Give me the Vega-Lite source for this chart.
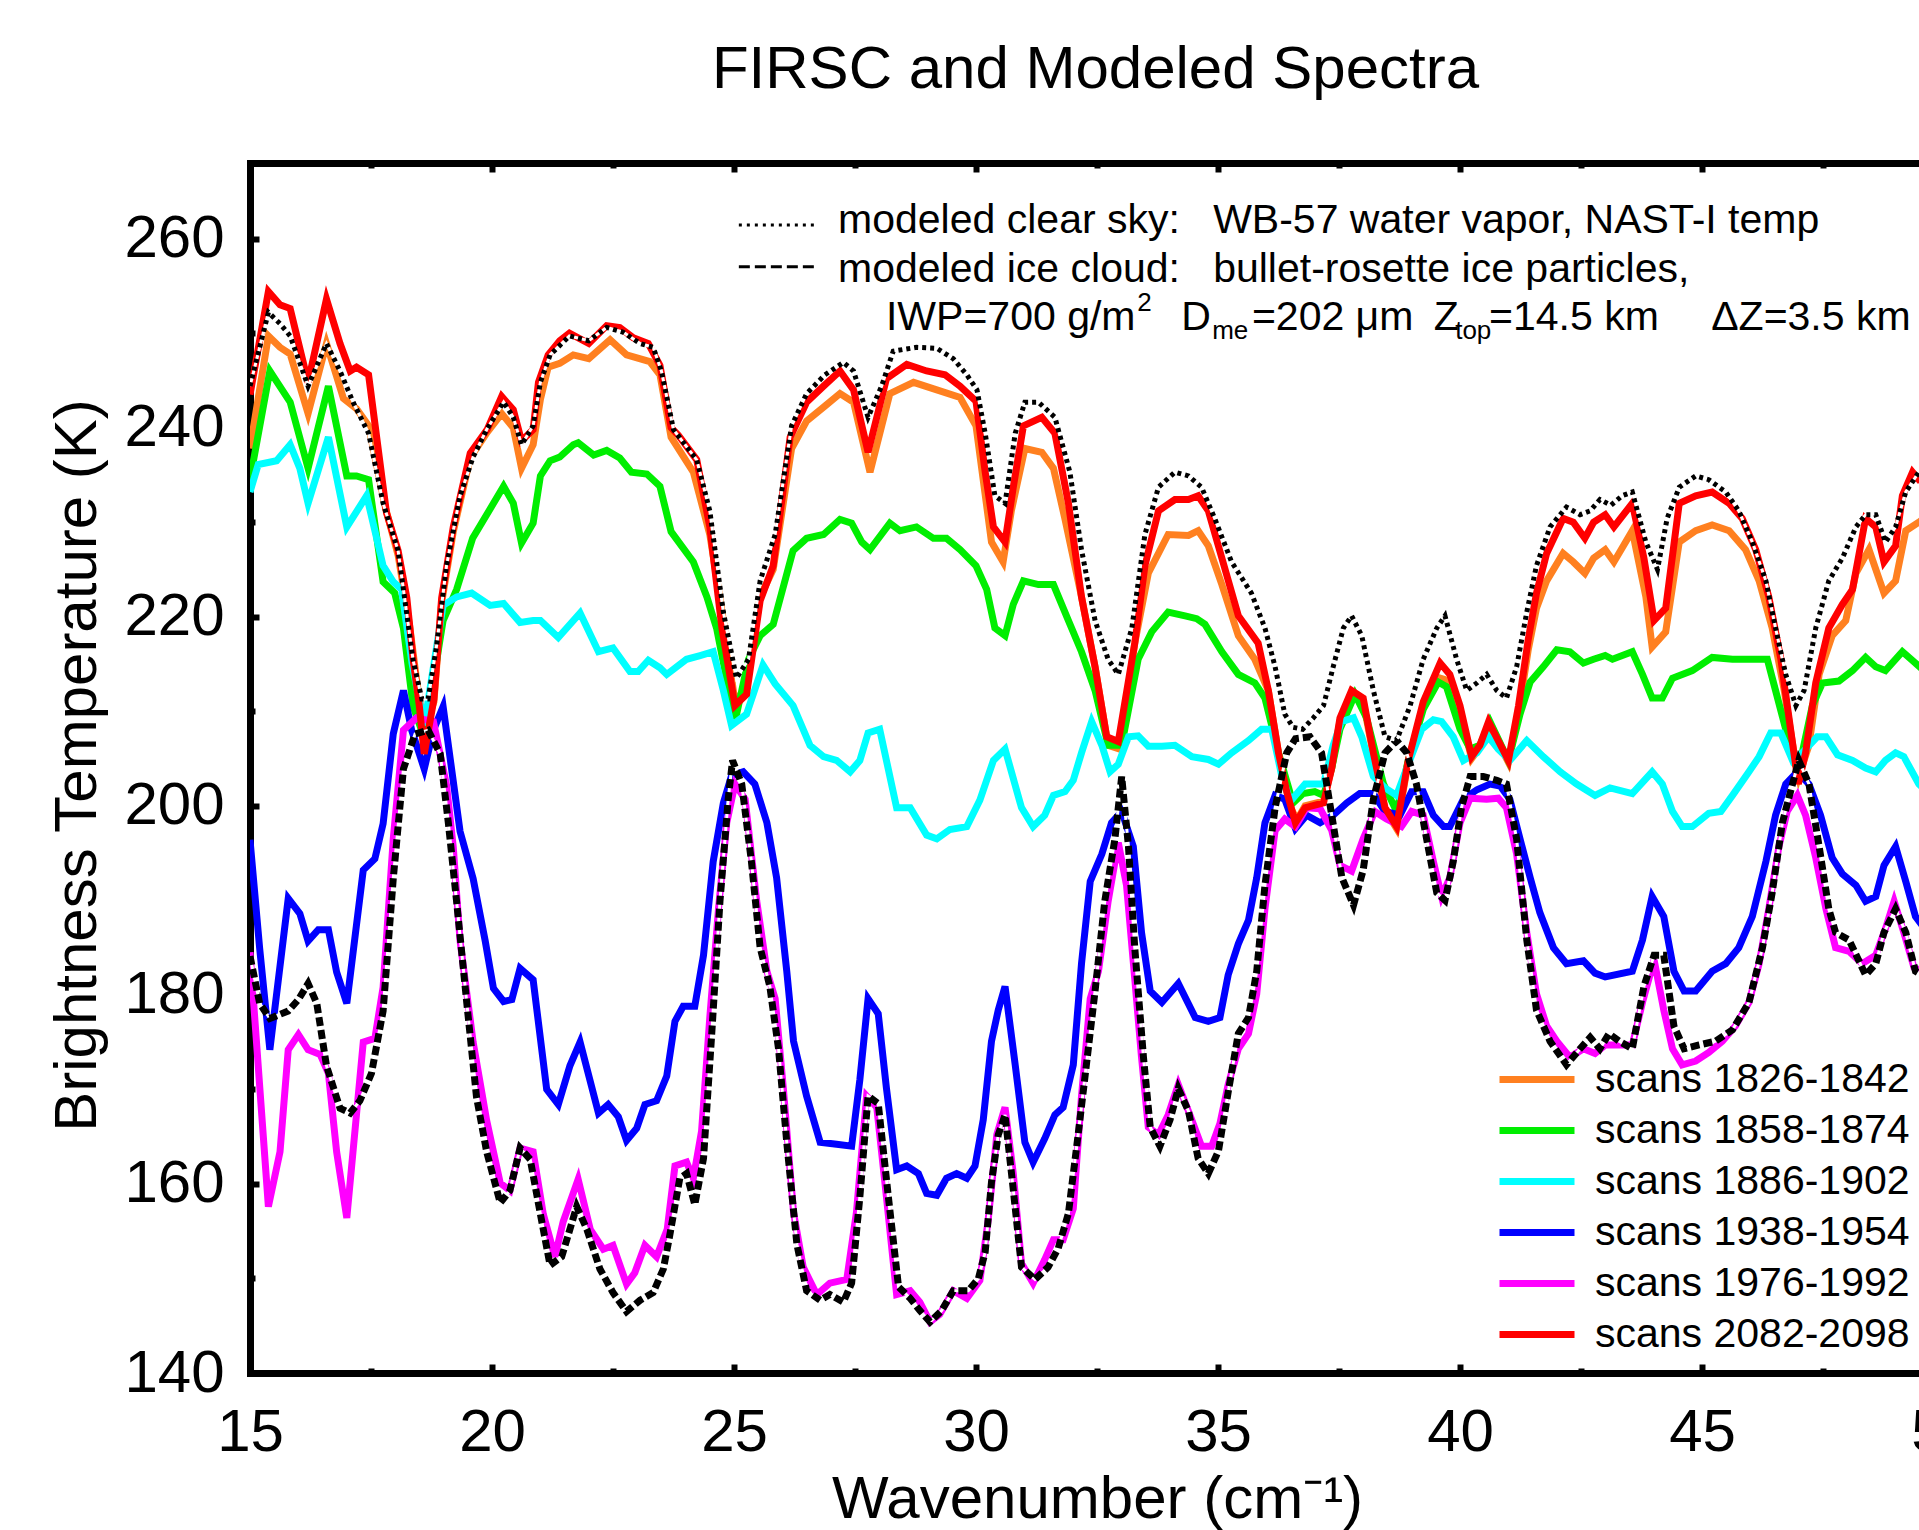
{
"$schema": "https://vega.github.io/schema/vega-lite/v6.json",
"autosize": {"type": "none"},
"padding": {"left": 250, "top": 163, "right": 0, "bottom": 157},
"width": 1669,
"height": 1210,
"background": "white",
"title": {"text": "FIRSC and Modeled Spectra", "font": "Liberation Sans", "fontSize": 60, "fontWeight": "normal", "color": "black", "anchor": "middle", "frame": "group", "baseline": "alphabetic", "dx": 11, "offset": 12},
"config": {
"view": {"stroke": null},
"font": "Liberation Sans",
"axis": {"grid": false, "domainColor": "black", "tickColor": "black", "labelColor": "black", "titleColor": "black", "labelFont": "Liberation Sans", "titleFont": "Liberation Sans", "titleFontWeight": "normal", "labelFontSize": 60, "titleFontSize": 60, "tickWidth": 6, "domainWidth": 7, "domainCap": "square", "labelFlush": false, "labelOverlap": false},
"legend": {"orient": "none", "legendX": 1246, "legendY": 896, "symbolType": "stroke", "symbolSize": 5625, "symbolStrokeWidth": 7, "labelFont": "Liberation Sans", "labelFontSize": 41, "labelColor": "black", "labelOffset": 17, "clipHeight": 41, "rowPadding": 9, "padding": 0, "labelLimit": 0}
},
"resolve": {"axis": {"x": "independent", "y": "independent"}},
"datasets": {
"s1826": [{"wn":15,"T":237.8},{"wn":15.38,"T":249.7},{"wn":15.62,"T":248.5},{"wn":15.83,"T":247.8},{"wn":16.2,"T":241.5},{"wn":16.58,"T":248.9},{"wn":16.93,"T":243.1},{"wn":17.2,"T":242},{"wn":17.45,"T":240.2},{"wn":17.8,"T":231.5},{"wn":18.06,"T":226.5},{"wn":18.3,"T":219},{"wn":18.45,"T":213},{"wn":18.6,"T":208},{"wn":18.8,"T":211},{"wn":18.96,"T":221.5},{"wn":19.2,"T":229},{"wn":19.55,"T":236.8},{"wn":19.9,"T":239.5},{"wn":20.2,"T":241.5},{"wn":20.44,"T":240},{"wn":20.61,"T":235.7},{"wn":20.85,"T":238.2},{"wn":21,"T":243},{"wn":21.16,"T":246.4},{"wn":21.4,"T":246.8},{"wn":21.68,"T":247.7},{"wn":22,"T":247.3},{"wn":22.44,"T":249.3},{"wn":22.78,"T":247.7},{"wn":23.26,"T":247},{"wn":23.47,"T":245.6},{"wn":23.7,"T":239},{"wn":24.16,"T":235.3},{"wn":24.5,"T":228.7},{"wn":24.78,"T":219.6},{"wn":25.02,"T":211},{"wn":25.26,"T":212.6},{"wn":25.54,"T":222.1},{"wn":25.81,"T":225},{"wn":26.19,"T":237.8},{"wn":26.5,"T":240.7},{"wn":26.88,"T":242.3},{"wn":27.19,"T":243.6},{"wn":27.47,"T":242.7},{"wn":27.81,"T":235.3},{"wn":28.22,"T":243.6},{"wn":28.71,"T":244.8},{"wn":29.19,"T":244},{"wn":29.67,"T":243.2},{"wn":30,"T":240.2},{"wn":30.32,"T":227.9},{"wn":30.56,"T":225.8},{"wn":30.73,"T":231.2},{"wn":31.01,"T":237.8},{"wn":31.36,"T":237.4},{"wn":31.6,"T":235.7},{"wn":31.84,"T":230.3},{"wn":32.18,"T":222.1},{"wn":32.46,"T":214.7},{"wn":32.73,"T":206.4},{"wn":32.97,"T":206},{"wn":33.28,"T":217.2},{"wn":33.56,"T":224.6},{"wn":33.97,"T":228.7},{"wn":34.39,"T":228.6},{"wn":34.59,"T":229.1},{"wn":34.8,"T":227.5},{"wn":35.08,"T":223.4},{"wn":35.42,"T":218},{"wn":35.76,"T":215.5},{"wn":36.04,"T":212.2},{"wn":36.25,"T":205.6},{"wn":36.5,"T":199.8},{"wn":36.63,"T":198.5},{"wn":36.8,"T":200},{"wn":37.18,"T":200.5},{"wn":37.35,"T":204},{"wn":37.52,"T":209},{"wn":37.76,"T":212},{"wn":38,"T":211},{"wn":38.21,"T":205.4},{"wn":38.45,"T":199.6},{"wn":38.69,"T":197.6},{"wn":38.93,"T":204.6},{"wn":39.24,"T":210.6},{"wn":39.59,"T":213.5},{"wn":39.79,"T":213.2},{"wn":40,"T":210},{"wn":40.24,"T":205},{"wn":40.41,"T":206.2},{"wn":40.59,"T":208.6},{"wn":40.79,"T":206.7},{"wn":41,"T":204.6},{"wn":41.21,"T":209.8},{"wn":41.41,"T":216.5},{"wn":41.58,"T":220.9},{"wn":41.79,"T":223.8},{"wn":42.13,"T":226.7},{"wn":42.34,"T":225.8},{"wn":42.58,"T":224.6},{"wn":42.76,"T":226.2},{"wn":43,"T":227.1},{"wn":43.18,"T":225.8},{"wn":43.56,"T":229.1},{"wn":43.84,"T":222.1},{"wn":43.97,"T":216.8},{"wn":44.25,"T":218.4},{"wn":44.53,"T":227.9},{"wn":44.87,"T":229.1},{"wn":45.21,"T":229.7},{"wn":45.56,"T":229.1},{"wn":45.9,"T":227.1},{"wn":46.18,"T":223.8},{"wn":46.45,"T":218.8},{"wn":46.7,"T":212.2},{"wn":46.9,"T":205.6},{"wn":47,"T":203.1},{"wn":47.21,"T":206.4},{"wn":47.42,"T":213.9},{"wn":47.69,"T":218},{"wn":47.97,"T":219.6},{"wn":48.18,"T":224.6},{"wn":48.45,"T":227.1},{"wn":48.76,"T":222.5},{"wn":49,"T":223.8},{"wn":49.21,"T":229.1},{"wn":49.48,"T":230},{"wn":49.75,"T":231}],
"s1858": [{"wn":15,"T":234.5},{"wn":15.41,"T":246},{"wn":15.83,"T":242.7},{"wn":16.2,"T":235.7},{"wn":16.62,"T":244.4},{"wn":17,"T":234.9},{"wn":17.2,"T":234.9},{"wn":17.45,"T":234.5},{"wn":17.75,"T":223.7},{"wn":17.99,"T":222.5},{"wn":18.17,"T":218.8},{"wn":18.37,"T":210.5},{"wn":18.6,"T":207.2},{"wn":18.99,"T":219.6},{"wn":19.27,"T":222.9},{"wn":19.6,"T":228.3},{"wn":20.24,"T":233.8},{"wn":20.44,"T":232},{"wn":20.61,"T":227.8},{"wn":20.85,"T":229.9},{"wn":21,"T":234.9},{"wn":21.2,"T":236.5},{"wn":21.4,"T":236.9},{"wn":21.68,"T":238.2},{"wn":21.78,"T":238.4},{"wn":22.1,"T":237.1},{"wn":22.37,"T":237.6},{"wn":22.64,"T":236.8},{"wn":22.88,"T":235.3},{"wn":23.2,"T":235.1},{"wn":23.47,"T":233.8},{"wn":23.7,"T":229},{"wn":24.16,"T":225.8},{"wn":24.44,"T":222.1},{"wn":24.64,"T":218.8},{"wn":25.02,"T":208.9},{"wn":25.3,"T":215.5},{"wn":25.54,"T":218},{"wn":25.81,"T":219.2},{"wn":26.22,"T":227},{"wn":26.5,"T":228.3},{"wn":26.85,"T":228.7},{"wn":27.19,"T":230.3},{"wn":27.43,"T":229.9},{"wn":27.64,"T":227.9},{"wn":27.81,"T":227.1},{"wn":28.22,"T":229.9},{"wn":28.43,"T":229.1},{"wn":28.77,"T":229.5},{"wn":29.12,"T":228.3},{"wn":29.39,"T":228.3},{"wn":29.67,"T":227.1},{"wn":30,"T":225.4},{"wn":30.22,"T":222.9},{"wn":30.39,"T":218.8},{"wn":30.6,"T":218},{"wn":30.77,"T":221.3},{"wn":30.98,"T":223.8},{"wn":31.29,"T":223.4},{"wn":31.6,"T":223.4},{"wn":31.91,"T":219.6},{"wn":32.18,"T":216.3},{"wn":32.46,"T":212.2},{"wn":32.73,"T":206.4},{"wn":33.01,"T":206.4},{"wn":33.35,"T":215.5},{"wn":33.63,"T":218.4},{"wn":33.97,"T":220.5},{"wn":34.32,"T":220.1},{"wn":34.56,"T":219.8},{"wn":34.73,"T":219.2},{"wn":35.08,"T":216.3},{"wn":35.42,"T":213.9},{"wn":35.76,"T":213},{"wn":35.97,"T":211.4},{"wn":36.25,"T":205.6},{"wn":36.55,"T":200.3},{"wn":36.76,"T":201.3},{"wn":37,"T":201.5},{"wn":37.18,"T":201.1},{"wn":37.35,"T":204},{"wn":37.52,"T":208.1},{"wn":37.83,"T":211.8},{"wn":38.07,"T":209.3},{"wn":38.42,"T":202.3},{"wn":38.69,"T":199.4},{"wn":38.93,"T":204.8},{"wn":39.24,"T":210.2},{"wn":39.55,"T":213.1},{"wn":39.72,"T":212.6},{"wn":40,"T":208.1},{"wn":40.21,"T":206},{"wn":40.41,"T":206.4},{"wn":40.62,"T":208.9},{"wn":41,"T":204.8},{"wn":41.24,"T":209.7},{"wn":41.45,"T":213.1},{"wn":41.72,"T":214.7},{"wn":42,"T":216.5},{"wn":42.27,"T":216.3},{"wn":42.55,"T":215.1},{"wn":42.76,"T":215.5},{"wn":43,"T":215.9},{"wn":43.15,"T":215.5},{"wn":43.56,"T":216.3},{"wn":43.77,"T":213.9},{"wn":43.97,"T":211.4},{"wn":44.18,"T":211.4},{"wn":44.39,"T":213.5},{"wn":44.8,"T":214.3},{"wn":45.21,"T":215.7},{"wn":45.63,"T":215.5},{"wn":46.04,"T":215.5},{"wn":46.35,"T":215.5},{"wn":46.52,"T":212.2},{"wn":46.73,"T":208.1},{"wn":46.9,"T":204.8},{"wn":47.07,"T":205.6},{"wn":47.28,"T":210.6},{"wn":47.49,"T":213},{"wn":47.83,"T":213.2},{"wn":48.11,"T":214.3},{"wn":48.38,"T":215.7},{"wn":48.59,"T":214.7},{"wn":48.79,"T":214.3},{"wn":49.14,"T":216.3},{"wn":49.41,"T":215.1},{"wn":49.75,"T":213.5}],
"s1886": [{"wn":15,"T":233.2},{"wn":15.17,"T":236.1},{"wn":15.55,"T":236.5},{"wn":15.83,"T":238.2},{"wn":16.03,"T":235.7},{"wn":16.2,"T":232},{"wn":16.62,"T":239},{"wn":17,"T":229.5},{"wn":17.41,"T":232.8},{"wn":17.75,"T":225.4},{"wn":17.96,"T":223.7},{"wn":18.13,"T":222.9},{"wn":18.35,"T":215},{"wn":18.6,"T":208.5},{"wn":18.99,"T":221.2},{"wn":19.27,"T":222.1},{"wn":19.58,"T":222.5},{"wn":19.96,"T":221.2},{"wn":20.24,"T":221.4},{"wn":20.58,"T":219.4},{"wn":20.85,"T":219.6},{"wn":21,"T":219.6},{"wn":21.37,"T":217.8},{"wn":21.82,"T":220.4},{"wn":22.2,"T":216.3},{"wn":22.5,"T":216.7},{"wn":22.85,"T":214.2},{"wn":23.02,"T":214.2},{"wn":23.23,"T":215.4},{"wn":23.47,"T":214.6},{"wn":23.61,"T":213.9},{"wn":24.02,"T":215.5},{"wn":24.3,"T":215.9},{"wn":24.57,"T":216.3},{"wn":24.78,"T":212.2},{"wn":24.95,"T":208.5},{"wn":25.26,"T":209.7},{"wn":25.6,"T":214.9},{"wn":25.85,"T":212.9},{"wn":26.22,"T":210.6},{"wn":26.57,"T":206.4},{"wn":26.85,"T":205.2},{"wn":27.12,"T":204.8},{"wn":27.4,"T":203.6},{"wn":27.6,"T":204.8},{"wn":27.77,"T":207.7},{"wn":28.01,"T":208.1},{"wn":28.36,"T":199.8},{"wn":28.64,"T":199.8},{"wn":28.98,"T":196.9},{"wn":29.19,"T":196.5},{"wn":29.46,"T":197.5},{"wn":29.81,"T":197.8},{"wn":30.08,"T":200.6},{"wn":30.36,"T":204.8},{"wn":30.6,"T":206},{"wn":30.94,"T":199.8},{"wn":31.18,"T":197.8},{"wn":31.42,"T":199},{"wn":31.6,"T":201.1},{"wn":31.84,"T":201.5},{"wn":32.01,"T":202.7},{"wn":32.18,"T":205.6},{"wn":32.39,"T":208.9},{"wn":32.6,"T":206.4},{"wn":32.77,"T":203.6},{"wn":32.94,"T":204.4},{"wn":33.15,"T":207.3},{"wn":33.35,"T":207.4},{"wn":33.56,"T":206.3},{"wn":33.84,"T":206.3},{"wn":34.11,"T":206.4},{"wn":34.46,"T":205.2},{"wn":34.8,"T":204.9},{"wn":35.01,"T":204.4},{"wn":35.28,"T":205.6},{"wn":35.63,"T":206.9},{"wn":35.9,"T":208.1},{"wn":36.11,"T":208.1},{"wn":36.32,"T":203.1},{"wn":36.5,"T":200.5},{"wn":36.8,"T":202.3},{"wn":37.18,"T":202.3},{"wn":37.38,"T":206.4},{"wn":37.55,"T":208.9},{"wn":37.8,"T":209.3},{"wn":37.97,"T":207.3},{"wn":38.21,"T":203.1},{"wn":38.45,"T":201.9},{"wn":38.69,"T":201.1},{"wn":38.93,"T":204.4},{"wn":39.21,"T":208.1},{"wn":39.45,"T":209.1},{"wn":39.62,"T":208.9},{"wn":39.86,"T":207.3},{"wn":40.07,"T":204.8},{"wn":40.35,"T":205.6},{"wn":40.59,"T":207.3},{"wn":40.79,"T":206},{"wn":41.03,"T":204.8},{"wn":41.38,"T":206.9},{"wn":41.72,"T":205.2},{"wn":42.07,"T":203.6},{"wn":42.41,"T":202.3},{"wn":42.79,"T":201.1},{"wn":43.1,"T":201.9},{"wn":43.56,"T":201.3},{"wn":43.97,"T":203.6},{"wn":44.18,"T":202.3},{"wn":44.39,"T":199.4},{"wn":44.59,"T":197.8},{"wn":44.8,"T":197.8},{"wn":45.14,"T":199.2},{"wn":45.39,"T":199.4},{"wn":45.63,"T":201.1},{"wn":45.97,"T":203.6},{"wn":46.18,"T":205.2},{"wn":46.42,"T":207.7},{"wn":46.63,"T":207.7},{"wn":46.87,"T":204.8},{"wn":47.07,"T":205.6},{"wn":47.38,"T":207.3},{"wn":47.56,"T":207.3},{"wn":47.8,"T":205.4},{"wn":48.11,"T":204.8},{"wn":48.38,"T":204},{"wn":48.59,"T":203.6},{"wn":48.79,"T":204.8},{"wn":49,"T":205.6},{"wn":49.17,"T":205.2},{"wn":49.48,"T":202.3},{"wn":49.75,"T":201}],
"s1938": [{"wn":15,"T":196.4},{"wn":15.2,"T":184.9},{"wn":15.41,"T":174.2},{"wn":15.79,"T":190.2},{"wn":16.03,"T":188.6},{"wn":16.2,"T":185.7},{"wn":16.41,"T":186.9},{"wn":16.62,"T":186.9},{"wn":16.79,"T":182.4},{"wn":17,"T":179.1},{"wn":17.34,"T":193.2},{"wn":17.58,"T":194.4},{"wn":17.75,"T":198.1},{"wn":17.96,"T":207.6},{"wn":18.17,"T":212.2},{"wn":18.34,"T":208},{"wn":18.6,"T":203.9},{"wn":18.79,"T":208},{"wn":18.99,"T":210.5},{"wn":19.34,"T":197.3},{"wn":19.61,"T":192.3},{"wn":19.86,"T":185.7},{"wn":20.03,"T":180.7},{"wn":20.24,"T":179.3},{"wn":20.41,"T":179.5},{"wn":20.58,"T":182.8},{"wn":20.85,"T":181.6},{"wn":21.13,"T":170},{"wn":21.37,"T":168.4},{"wn":21.61,"T":172.5},{"wn":21.82,"T":175},{"wn":22.2,"T":167.5},{"wn":22.4,"T":168.4},{"wn":22.61,"T":167.1},{"wn":22.78,"T":164.6},{"wn":22.99,"T":165.9},{"wn":23.16,"T":168.4},{"wn":23.4,"T":168.8},{"wn":23.61,"T":171.4},{"wn":23.78,"T":177.2},{"wn":23.95,"T":178.8},{"wn":24.19,"T":178.8},{"wn":24.37,"T":184.2},{"wn":24.57,"T":194.1},{"wn":24.78,"T":200.3},{"wn":24.95,"T":203.2},{"wn":25.19,"T":203.6},{"wn":25.43,"T":202.3},{"wn":25.68,"T":198.2},{"wn":25.88,"T":192.4},{"wn":26.09,"T":182.5},{"wn":26.23,"T":175.1},{"wn":26.5,"T":169.3},{"wn":26.78,"T":164.4},{"wn":27.12,"T":164.2},{"wn":27.43,"T":164},{"wn":27.6,"T":171},{"wn":27.77,"T":179.6},{"wn":27.98,"T":178},{"wn":28.15,"T":170.1},{"wn":28.36,"T":161.5},{"wn":28.57,"T":161.9},{"wn":28.81,"T":161.1},{"wn":28.98,"T":159},{"wn":29.19,"T":158.8},{"wn":29.39,"T":160.6},{"wn":29.6,"T":161.1},{"wn":29.81,"T":160.6},{"wn":29.98,"T":161.9},{"wn":30.15,"T":166.8},{"wn":30.32,"T":175.1},{"wn":30.46,"T":178.4},{"wn":30.6,"T":180.9},{"wn":30.81,"T":172.6},{"wn":31.01,"T":164.4},{"wn":31.18,"T":162.3},{"wn":31.42,"T":164.8},{"wn":31.63,"T":167.3},{"wn":31.8,"T":168.1},{"wn":32.01,"T":172.6},{"wn":32.18,"T":183.3},{"wn":32.36,"T":192},{"wn":32.6,"T":194.9},{"wn":32.8,"T":198.2},{"wn":33.01,"T":199.4},{"wn":33.25,"T":195.7},{"wn":33.42,"T":186.6},{"wn":33.6,"T":180.4},{"wn":33.84,"T":179.2},{"wn":34.18,"T":181.2},{"wn":34.53,"T":177.6},{"wn":34.8,"T":177.2},{"wn":35.04,"T":177.6},{"wn":35.21,"T":182.1},{"wn":35.42,"T":185.4},{"wn":35.63,"T":187.9},{"wn":35.8,"T":192.4},{"wn":35.97,"T":198.2},{"wn":36.18,"T":201.1},{"wn":36.38,"T":200.7},{"wn":36.6,"T":197.6},{"wn":36.83,"T":199},{"wn":37.11,"T":198.2},{"wn":37.38,"T":199},{"wn":37.66,"T":200.3},{"wn":37.93,"T":201.3},{"wn":38.21,"T":201.3},{"wn":38.45,"T":199.4},{"wn":38.76,"T":199},{"wn":39,"T":201.5},{"wn":39.24,"T":201.5},{"wn":39.45,"T":199},{"wn":39.66,"T":197.8},{"wn":39.79,"T":197.8},{"wn":40.07,"T":200.7},{"wn":40.35,"T":201.7},{"wn":40.62,"T":202.3},{"wn":40.83,"T":202.1},{"wn":41.03,"T":200.7},{"wn":41.24,"T":196.5},{"wn":41.45,"T":192.4},{"wn":41.65,"T":188.7},{"wn":41.93,"T":185},{"wn":42.2,"T":183.3},{"wn":42.55,"T":183.6},{"wn":42.79,"T":182.3},{"wn":43,"T":181.9},{"wn":43.56,"T":182.5},{"wn":43.77,"T":185.8},{"wn":43.97,"T":190.4},{"wn":44.21,"T":188.3},{"wn":44.42,"T":182.5},{"wn":44.63,"T":180.4},{"wn":44.87,"T":180.4},{"wn":45.21,"T":182.5},{"wn":45.49,"T":183.3},{"wn":45.76,"T":185},{"wn":46.04,"T":188.3},{"wn":46.32,"T":194.1},{"wn":46.52,"T":199},{"wn":46.73,"T":202.3},{"wn":46.97,"T":203.6},{"wn":47.21,"T":202.3},{"wn":47.45,"T":199},{"wn":47.69,"T":194.5},{"wn":47.9,"T":192.8},{"wn":48.18,"T":191.6},{"wn":48.38,"T":189.9},{"wn":48.59,"T":190.4},{"wn":48.76,"T":193.7},{"wn":49,"T":195.7},{"wn":49.21,"T":192},{"wn":49.41,"T":188.3},{"wn":49.75,"T":186}],
"s1976": [{"wn":15,"T":184.5},{"wn":15.38,"T":157.6},{"wn":15.62,"T":163.4},{"wn":15.79,"T":174.2},{"wn":16,"T":175.8},{"wn":16.2,"T":174.2},{"wn":16.45,"T":173.7},{"wn":16.62,"T":171.7},{"wn":16.79,"T":163.4},{"wn":17,"T":156.4},{"wn":17.34,"T":175},{"wn":17.58,"T":175.4},{"wn":17.75,"T":180.8},{"wn":17.96,"T":196.5},{"wn":18.17,"T":208},{"wn":18.44,"T":209.3},{"wn":18.79,"T":208.9},{"wn":19.06,"T":202.2},{"wn":19.2,"T":195.6},{"wn":19.34,"T":185.7},{"wn":19.61,"T":175},{"wn":19.89,"T":166.7},{"wn":20.17,"T":160.1},{"wn":20.37,"T":159.3},{"wn":20.58,"T":163.8},{"wn":20.85,"T":163.4},{"wn":21.06,"T":156.8},{"wn":21.3,"T":152.3},{"wn":21.47,"T":156},{"wn":21.78,"T":160.5},{"wn":22.03,"T":155.2},{"wn":22.3,"T":153.1},{"wn":22.5,"T":153.5},{"wn":22.78,"T":149.4},{"wn":22.95,"T":150.6},{"wn":23.16,"T":153.5},{"wn":23.4,"T":152.3},{"wn":23.62,"T":155.2},{"wn":23.78,"T":161.9},{"wn":24.02,"T":162.3},{"wn":24.16,"T":160.6},{"wn":24.33,"T":165.6},{"wn":24.5,"T":177.6},{"wn":24.68,"T":189.1},{"wn":24.85,"T":198.2},{"wn":25.02,"T":202.3},{"wn":25.23,"T":200.7},{"wn":25.47,"T":189.9},{"wn":25.68,"T":182.5},{"wn":25.85,"T":179.6},{"wn":26.02,"T":170.1},{"wn":26.23,"T":157},{"wn":26.43,"T":151.2},{"wn":26.71,"T":148.3},{"wn":26.98,"T":149.5},{"wn":27.33,"T":149.9},{"wn":27.53,"T":157},{"wn":27.74,"T":169.3},{"wn":27.95,"T":168.1},{"wn":28.15,"T":158.6},{"wn":28.36,"T":148.3},{"wn":28.64,"T":148.7},{"wn":28.84,"T":147.5},{"wn":29.05,"T":145.4},{"wn":29.25,"T":146.2},{"wn":29.53,"T":148.7},{"wn":29.81,"T":147.9},{"wn":30.08,"T":149.8},{"wn":30.25,"T":156.1},{"wn":30.43,"T":165.2},{"wn":30.6,"T":168.1},{"wn":30.77,"T":161.1},{"wn":30.94,"T":151.6},{"wn":31.18,"T":149.5},{"wn":31.42,"T":152},{"wn":31.6,"T":154.1},{"wn":31.8,"T":154.1},{"wn":32.01,"T":157.4},{"wn":32.18,"T":169.3},{"wn":32.36,"T":179.6},{"wn":32.53,"T":182.5},{"wn":32.73,"T":189.9},{"wn":32.94,"T":196.1},{"wn":33.11,"T":191.6},{"wn":33.28,"T":181.7},{"wn":33.42,"T":173.4},{"wn":33.56,"T":166},{"wn":33.77,"T":165.2},{"wn":33.97,"T":167.3},{"wn":34.18,"T":170.5},{"wn":34.42,"T":167.3},{"wn":34.66,"T":164},{"wn":34.87,"T":164},{"wn":35.04,"T":166.4},{"wn":35.21,"T":170.5},{"wn":35.42,"T":174.3},{"wn":35.63,"T":175.9},{"wn":35.8,"T":180.1},{"wn":35.97,"T":189.1},{"wn":36.18,"T":197.4},{"wn":36.38,"T":198.6},{"wn":36.6,"T":197.8},{"wn":36.83,"T":199.8},{"wn":37.11,"T":199.7},{"wn":37.35,"T":197.4},{"wn":37.52,"T":193.7},{"wn":37.76,"T":193.1},{"wn":38,"T":196.5},{"wn":38.24,"T":199.4},{"wn":38.48,"T":198.6},{"wn":38.79,"T":197.8},{"wn":39,"T":199.4},{"wn":39.24,"T":199},{"wn":39.45,"T":194.1},{"wn":39.62,"T":190.4},{"wn":39.79,"T":192.4},{"wn":40,"T":198.2},{"wn":40.21,"T":200.8},{"wn":40.55,"T":200.7},{"wn":40.79,"T":200.8},{"wn":40.96,"T":199.8},{"wn":41.17,"T":194.9},{"wn":41.38,"T":186.6},{"wn":41.58,"T":180.1},{"wn":41.79,"T":176.7},{"wn":42,"T":175.1},{"wn":42.27,"T":173.4},{"wn":42.55,"T":174.3},{"wn":42.79,"T":173.8},{"wn":43,"T":174.7},{"wn":43.56,"T":174.7},{"wn":43.77,"T":179.2},{"wn":44.01,"T":183.7},{"wn":44.21,"T":178.4},{"wn":44.39,"T":174.3},{"wn":44.59,"T":172.6},{"wn":44.87,"T":173},{"wn":45.14,"T":173.9},{"wn":45.42,"T":175.1},{"wn":45.69,"T":176.7},{"wn":45.97,"T":179.2},{"wn":46.18,"T":183.3},{"wn":46.38,"T":189.1},{"wn":46.59,"T":195.7},{"wn":46.76,"T":199.4},{"wn":46.97,"T":201.1},{"wn":47.14,"T":199},{"wn":47.35,"T":194.5},{"wn":47.56,"T":189.1},{"wn":47.76,"T":185},{"wn":48.04,"T":184.6},{"wn":48.31,"T":183.3},{"wn":48.59,"T":184.2},{"wn":48.79,"T":187},{"wn":48.97,"T":189.9},{"wn":49.17,"T":186.6},{"wn":49.38,"T":182.9},{"wn":49.75,"T":182}],
"s2082": [{"wn":15,"T":243.5},{"wn":15.38,"T":254.4},{"wn":15.62,"T":253},{"wn":15.83,"T":252.6},{"wn":16.2,"T":244.8},{"wn":16.58,"T":253.6},{"wn":16.86,"T":248.9},{"wn":17.07,"T":246},{"wn":17.2,"T":246.4},{"wn":17.45,"T":245.6},{"wn":17.82,"T":231},{"wn":18.06,"T":227},{"wn":18.24,"T":222},{"wn":18.37,"T":215.5},{"wn":18.5,"T":210.5},{"wn":18.6,"T":205.5},{"wn":18.8,"T":211.3},{"wn":18.96,"T":222},{"wn":19.2,"T":229.5},{"wn":19.55,"T":237.3},{"wn":19.9,"T":239.8},{"wn":20.2,"T":243.3},{"wn":20.44,"T":241.9},{"wn":20.61,"T":238.6},{"wn":20.85,"T":239.8},{"wn":20.96,"T":244.8},{"wn":21.16,"T":247.7},{"wn":21.4,"T":249.2},{"wn":21.6,"T":250},{"wn":22,"T":248.9},{"wn":22.37,"T":250.8},{"wn":22.64,"T":250.6},{"wn":22.92,"T":249.5},{"wn":23.23,"T":248.9},{"wn":23.47,"T":246.6},{"wn":23.7,"T":240},{"wn":23.85,"T":239.2},{"wn":24.23,"T":236.6},{"wn":24.5,"T":229.5},{"wn":24.75,"T":218.8},{"wn":25.02,"T":210.6},{"wn":25.26,"T":211.8},{"wn":25.54,"T":221.7},{"wn":25.81,"T":225.4},{"wn":26.16,"T":239},{"wn":26.5,"T":242.7},{"wn":26.85,"T":244.4},{"wn":27.19,"T":246},{"wn":27.47,"T":244},{"wn":27.77,"T":237.4},{"wn":28.15,"T":245.2},{"wn":28.57,"T":246.7},{"wn":28.98,"T":246},{"wn":29.36,"T":245.6},{"wn":29.67,"T":244.4},{"wn":30,"T":242.8},{"wn":30.19,"T":235.3},{"wn":30.36,"T":229.5},{"wn":30.6,"T":227.9},{"wn":30.77,"T":233.7},{"wn":30.98,"T":240.2},{"wn":31.36,"T":241.1},{"wn":31.63,"T":239.4},{"wn":31.91,"T":232},{"wn":32.18,"T":222.1},{"wn":32.46,"T":214.7},{"wn":32.7,"T":207.3},{"wn":32.94,"T":206.8},{"wn":33.28,"T":217.2},{"wn":33.49,"T":225.4},{"wn":33.77,"T":231.2},{"wn":34.11,"T":232.4},{"wn":34.39,"T":232.4},{"wn":34.59,"T":232.8},{"wn":34.8,"T":231.2},{"wn":35.08,"T":226.2},{"wn":35.42,"T":220.1},{"wn":35.83,"T":217.2},{"wn":36.04,"T":212.2},{"wn":36.25,"T":205.6},{"wn":36.42,"T":201.5},{"wn":36.6,"T":198.2},{"wn":36.8,"T":199.8},{"wn":37.18,"T":200.3},{"wn":37.35,"T":204},{"wn":37.52,"T":209.3},{"wn":37.76,"T":212.2},{"wn":38,"T":211.4},{"wn":38.21,"T":205.6},{"wn":38.45,"T":199.8},{"wn":38.69,"T":197.8},{"wn":38.93,"T":204.8},{"wn":39.24,"T":211},{"wn":39.59,"T":215.1},{"wn":39.79,"T":213.9},{"wn":40,"T":210.6},{"wn":40.24,"T":205.2},{"wn":40.41,"T":206.4},{"wn":40.59,"T":208.9},{"wn":40.79,"T":206.9},{"wn":41,"T":204.8},{"wn":41.21,"T":210.6},{"wn":41.41,"T":217.6},{"wn":41.58,"T":222.5},{"wn":41.79,"T":226.7},{"wn":42.13,"T":230.4},{"wn":42.34,"T":230},{"wn":42.58,"T":228.3},{"wn":42.76,"T":230},{"wn":43,"T":230.8},{"wn":43.18,"T":229.5},{"wn":43.56,"T":232},{"wn":43.8,"T":226.2},{"wn":44.01,"T":219.6},{"wn":44.25,"T":220.9},{"wn":44.53,"T":232},{"wn":44.87,"T":232.8},{"wn":45.21,"T":233.2},{"wn":45.56,"T":232},{"wn":45.83,"T":230.4},{"wn":46.11,"T":227.1},{"wn":46.38,"T":222.1},{"wn":46.63,"T":215.5},{"wn":46.83,"T":208.1},{"wn":46.99,"T":202.3},{"wn":47.14,"T":205.6},{"wn":47.35,"T":213},{"wn":47.62,"T":218.8},{"wn":47.9,"T":221.3},{"wn":48.11,"T":222.9},{"wn":48.38,"T":230.4},{"wn":48.59,"T":229.5},{"wn":48.76,"T":225.8},{"wn":49,"T":227.5},{"wn":49.14,"T":232.8},{"wn":49.35,"T":235.3},{"wn":49.48,"T":234.5},{"wn":49.75,"T":235}],
"ice": [{"wn":15,"T":184.1},{"wn":15.2,"T":179.1},{"wn":15.41,"T":177.5},{"wn":15.79,"T":178.3},{"wn":16,"T":179.5},{"wn":16.2,"T":181.2},{"wn":16.38,"T":179.1},{"wn":16.58,"T":172.5},{"wn":16.86,"T":168},{"wn":17.07,"T":167.5},{"wn":17.27,"T":168.8},{"wn":17.51,"T":171.7},{"wn":17.75,"T":178.3},{"wn":17.96,"T":192.3},{"wn":18.17,"T":203.9},{"wn":18.41,"T":207.6},{"wn":18.68,"T":208},{"wn":18.93,"T":205.5},{"wn":19.1,"T":198.1},{"wn":19.27,"T":189.8},{"wn":19.48,"T":179.1},{"wn":19.68,"T":169.2},{"wn":19.89,"T":163.4},{"wn":20.17,"T":158},{"wn":20.37,"T":159.3},{"wn":20.58,"T":163.8},{"wn":20.79,"T":162.6},{"wn":21,"T":156.8},{"wn":21.2,"T":151.4},{"wn":21.44,"T":152.3},{"wn":21.75,"T":157.6},{"wn":21.96,"T":155.2},{"wn":22.23,"T":151},{"wn":22.5,"T":148.5},{"wn":22.78,"T":146.5},{"wn":23.06,"T":147.7},{"wn":23.33,"T":148.5},{"wn":23.54,"T":151},{"wn":23.66,"T":154.2},{"wn":23.88,"T":160.6},{"wn":24.02,"T":161.1},{"wn":24.19,"T":157.8},{"wn":24.37,"T":162.7},{"wn":24.54,"T":175.9},{"wn":24.71,"T":189.9},{"wn":24.88,"T":200.7},{"wn":24.97,"T":204.8},{"wn":25.16,"T":202.3},{"wn":25.36,"T":194.1},{"wn":25.54,"T":185},{"wn":25.74,"T":180.9},{"wn":25.92,"T":174.3},{"wn":26.09,"T":164.4},{"wn":26.3,"T":153.6},{"wn":26.5,"T":148.7},{"wn":26.78,"T":147.7},{"wn":26.98,"T":148.3},{"wn":27.26,"T":147.5},{"wn":27.43,"T":149.5},{"wn":27.6,"T":158.6},{"wn":27.77,"T":169.3},{"wn":27.98,"T":168.5},{"wn":28.19,"T":158.6},{"wn":28.4,"T":149.1},{"wn":28.64,"T":147.9},{"wn":28.84,"T":146.6},{"wn":29.05,"T":145.4},{"wn":29.29,"T":146.6},{"wn":29.53,"T":148.7},{"wn":29.84,"T":148.7},{"wn":30.05,"T":150},{"wn":30.19,"T":152.8},{"wn":30.32,"T":160.2},{"wn":30.46,"T":165.2},{"wn":30.6,"T":167.3},{"wn":30.77,"T":159.4},{"wn":30.94,"T":151.2},{"wn":31.22,"T":149.9},{"wn":31.49,"T":151.2},{"wn":31.7,"T":153.2},{"wn":31.91,"T":156.9},{"wn":32.11,"T":165.2},{"wn":32.32,"T":174.3},{"wn":32.46,"T":180.4},{"wn":32.66,"T":189.9},{"wn":32.87,"T":196.5},{"wn":33.01,"T":203.1},{"wn":33.15,"T":195.7},{"wn":33.28,"T":185},{"wn":33.46,"T":173.4},{"wn":33.6,"T":166},{"wn":33.8,"T":164},{"wn":34.01,"T":166.8},{"wn":34.18,"T":170.1},{"wn":34.39,"T":167.7},{"wn":34.59,"T":162.7},{"wn":34.8,"T":161.1},{"wn":35.01,"T":163.5},{"wn":35.21,"T":169.7},{"wn":35.42,"T":175.9},{"wn":35.63,"T":177.6},{"wn":35.8,"T":182.5},{"wn":35.97,"T":191.6},{"wn":36.18,"T":199.8},{"wn":36.42,"T":205.6},{"wn":36.6,"T":207.1},{"wn":36.9,"T":207.3},{"wn":37.14,"T":205.6},{"wn":37.35,"T":199},{"wn":37.56,"T":192.4},{"wn":37.8,"T":189.5},{"wn":38,"T":193.2},{"wn":38.21,"T":200.7},{"wn":38.45,"T":205.6},{"wn":38.69,"T":206.9},{"wn":38.9,"T":205.6},{"wn":39.1,"T":202.3},{"wn":39.31,"T":196.5},{"wn":39.52,"T":190.8},{"wn":39.69,"T":190},{"wn":39.86,"T":194.1},{"wn":40.03,"T":199.8},{"wn":40.21,"T":203.1},{"wn":40.48,"T":203.1},{"wn":40.76,"T":202.7},{"wn":40.96,"T":202.3},{"wn":41.17,"T":196.5},{"wn":41.38,"T":185.8},{"wn":41.58,"T":178.4},{"wn":41.86,"T":175.1},{"wn":42.2,"T":172.6},{"wn":42.48,"T":174.3},{"wn":42.69,"T":175.5},{"wn":42.89,"T":174.3},{"wn":43.08,"T":175.9},{"wn":43.29,"T":175.1},{"wn":43.56,"T":174.3},{"wn":43.8,"T":180.9},{"wn":44.01,"T":184.2},{"wn":44.21,"T":184.2},{"wn":44.42,"T":176.7},{"wn":44.63,"T":174.3},{"wn":44.94,"T":174.7},{"wn":45.28,"T":175.1},{"wn":45.63,"T":176.3},{"wn":45.97,"T":179.2},{"wn":46.25,"T":185},{"wn":46.45,"T":190.8},{"wn":46.66,"T":198.2},{"wn":46.87,"T":202.3},{"wn":47,"T":204.8},{"wn":47.21,"T":202.3},{"wn":47.42,"T":195.7},{"wn":47.62,"T":189.1},{"wn":47.76,"T":186.6},{"wn":48.04,"T":185.8},{"wn":48.38,"T":182.1},{"wn":48.59,"T":183.3},{"wn":48.76,"T":186.6},{"wn":49,"T":189.1},{"wn":49.21,"T":186.6},{"wn":49.41,"T":182.5},{"wn":49.75,"T":181.5}],
"clear": [{"wn":15,"T":244.4},{"wn":15.38,"T":252.2},{"wn":15.62,"T":251},{"wn":15.83,"T":249.7},{"wn":16.2,"T":244.4},{"wn":16.58,"T":248.9},{"wn":16.86,"T":246},{"wn":17.13,"T":242.7},{"wn":17.45,"T":239.4},{"wn":17.75,"T":232},{"wn":18.06,"T":227},{"wn":18.37,"T":215.4},{"wn":18.55,"T":211.3},{"wn":18.68,"T":211.3},{"wn":18.86,"T":217.1},{"wn":19.06,"T":225.4},{"wn":19.34,"T":232.8},{"wn":19.61,"T":236.9},{"wn":19.89,"T":239.8},{"wn":20.24,"T":242.7},{"wn":20.44,"T":241.1},{"wn":20.61,"T":238.2},{"wn":20.85,"T":240.2},{"wn":21,"T":244.8},{"wn":21.2,"T":247.7},{"wn":21.6,"T":249.7},{"wn":22,"T":249.2},{"wn":22.37,"T":250.6},{"wn":22.71,"T":250.1},{"wn":23.06,"T":248.9},{"wn":23.33,"T":248.5},{"wn":23.5,"T":246},{"wn":23.75,"T":239.8},{"wn":24.23,"T":236.6},{"wn":24.5,"T":231.2},{"wn":24.78,"T":220.5},{"wn":25.05,"T":213.5},{"wn":25.3,"T":215.5},{"wn":25.54,"T":223.8},{"wn":25.85,"T":228.7},{"wn":26.19,"T":240.2},{"wn":26.5,"T":243.6},{"wn":26.88,"T":245.6},{"wn":27.26,"T":246.9},{"wn":27.47,"T":246},{"wn":27.77,"T":241.1},{"wn":28.05,"T":244.4},{"wn":28.29,"T":248.1},{"wn":28.77,"T":248.5},{"wn":29.19,"T":248.4},{"wn":29.53,"T":247.3},{"wn":29.81,"T":245.6},{"wn":30.02,"T":244},{"wn":30.19,"T":239.4},{"wn":30.39,"T":232.8},{"wn":30.6,"T":232},{"wn":30.81,"T":239.4},{"wn":31.01,"T":242.7},{"wn":31.29,"T":242.7},{"wn":31.63,"T":241.1},{"wn":31.94,"T":235.3},{"wn":32.18,"T":227.1},{"wn":32.46,"T":219.6},{"wn":32.73,"T":215.5},{"wn":32.94,"T":213.9},{"wn":33.22,"T":218.8},{"wn":33.49,"T":228.7},{"wn":33.77,"T":233.7},{"wn":34.11,"T":235.3},{"wn":34.39,"T":234.9},{"wn":34.66,"T":233.7},{"wn":34.94,"T":230.3},{"wn":35.28,"T":225.8},{"wn":35.69,"T":222.5},{"wn":35.97,"T":218.8},{"wn":36.18,"T":214.7},{"wn":36.38,"T":209.7},{"wn":36.55,"T":208.3},{"wn":36.75,"T":208.1},{"wn":36.97,"T":209.3},{"wn":37.18,"T":210.6},{"wn":37.38,"T":214.7},{"wn":37.59,"T":218.8},{"wn":37.76,"T":220.1},{"wn":37.97,"T":218},{"wn":38.21,"T":212.2},{"wn":38.45,"T":207.3},{"wn":38.69,"T":206.9},{"wn":38.97,"T":210.6},{"wn":39.24,"T":215.5},{"wn":39.52,"T":218.8},{"wn":39.69,"T":220.1},{"wn":39.93,"T":215.5},{"wn":40.14,"T":212.2},{"wn":40.35,"T":213},{"wn":40.55,"T":213.9},{"wn":40.76,"T":212.2},{"wn":40.96,"T":211.4},{"wn":41.17,"T":214.7},{"wn":41.38,"T":220.5},{"wn":41.58,"T":225.4},{"wn":41.86,"T":229.5},{"wn":42.2,"T":231.6},{"wn":42.48,"T":230.8},{"wn":42.69,"T":231.2},{"wn":42.89,"T":232.4},{"wn":43.12,"T":231.8},{"wn":43.35,"T":232.8},{"wn":43.56,"T":233.2},{"wn":43.84,"T":227.9},{"wn":44.08,"T":225},{"wn":44.28,"T":230.4},{"wn":44.53,"T":233.7},{"wn":44.87,"T":234.9},{"wn":45.14,"T":234.5},{"wn":45.49,"T":233.2},{"wn":45.76,"T":231.2},{"wn":46.04,"T":227.9},{"wn":46.32,"T":223.8},{"wn":46.52,"T":218.8},{"wn":46.73,"T":213.9},{"wn":46.94,"T":210.6},{"wn":47.11,"T":212.2},{"wn":47.35,"T":218.8},{"wn":47.62,"T":223.8},{"wn":47.9,"T":226.2},{"wn":48.18,"T":229.5},{"wn":48.38,"T":230.8},{"wn":48.59,"T":230.8},{"wn":48.79,"T":227.9},{"wn":49,"T":229.5},{"wn":49.21,"T":233.2},{"wn":49.48,"T":235.3},{"wn":49.75,"T":236}],
"samples": [{"wn":25.1,"wn2":26.71,"T":261.44,"model":"clear sky"},{"wn":25.1,"wn2":26.71,"T":257.03,"model":"ice cloud"}],
"notes": [{"wn":27.15,"T":260.56,"label":"modeled clear sky:"},{"wn":34.9,"T":260.56,"label":"WB-57 water vapor, NAST-I temp"},{"wn":27.15,"T":255.44,"label":"modeled ice cloud:"},{"wn":34.9,"T":255.44,"label":"bullet-rosette ice particles,"},{"wn":28.14,"T":250.33,"label":"IWP=700 g/m"},{"wn":34.24,"T":250.33,"label":"D"},{"wn":35.7,"T":250.33,"label":"=202 μm"},{"wn":39.46,"T":250.33,"label":"Z"},{"wn":40.6,"T":250.33,"label":"=14.5 km"},{"wn":45.19,"T":250.33,"label":"ΔZ=3.5 km"}],
"scripts": [{"wn":33.33,"T":252.37,"label":"2"},{"wn":34.88,"T":249.34,"label":"me"},{"wn":39.9,"T":249.34,"label":"top"}]
},
"encoding": {
"x": {"field": "wn", "type": "quantitative", "scale": {"domain": [15, 50], "range": [0, 1694], "nice": false, "zero": false}, "axis": null},
"y": {"field": "T", "type": "quantitative", "scale": {"domain": [140, 268], "nice": false, "zero": false}, "axis": null}
},
"layer": [
{"data": {"name": "s1826"}, "mark": {"type": "line", "strokeWidth": 7, "clip": true},
 "encoding": {
  "x": {"field": "wn", "type": "quantitative", "scale": {"domain": [15, 50], "range": [0, 1694], "nice": false, "zero": false}, "axis": {"orient": "bottom", "values": [15, 20, 25, 30, 35, 40, 45, 50], "format": "d", "tickSize": -9, "labelPadding": 39, "title": "Wavenumber (cm⁻¹)", "titleX": 847, "titleY": 144, "titleBaseline": "alphabetic", "titleAlign": "center"}},
  "y": {"field": "T", "type": "quantitative", "scale": {"domain": [140, 268], "nice": false, "zero": false}, "axis": {"orient": "left", "values": [140, 160, 180, 200, 220, 240, 260], "tickSize": -9, "labelPadding": 35, "title": "Brightness Temperature (K)", "titleX": -155, "titleY": 602, "titleAngle": 270, "titleBaseline": "alphabetic", "titleAlign": "center"}},
  "color": {"datum": "scans 1826-1842", "type": "nominal", "title": null, "scale": {"domain": ["scans 1826-1842", "scans 1858-1874", "scans 1886-1902", "scans 1938-1954", "scans 1976-1992", "scans 2082-2098"], "range": ["#ff8020", "#00ee00", "#00ffff", "#0000ff", "#ff00ff", "#ff0000"]}}
 }},
{"data": {"name": "s1858"}, "mark": {"type": "line", "strokeWidth": 7, "clip": true},
 "encoding": {
  "x": {"field": "wn", "type": "quantitative", "axis": {"orient": "bottom", "values": [17.5, 22.5, 27.5, 32.5, 37.5, 42.5, 47.5], "labels": false, "domain": false, "tickSize": -5, "title": null}},
  "y": {"field": "T", "type": "quantitative", "axis": {"orient": "left", "values": [150, 170, 190, 210, 230, 250], "labels": false, "domain": false, "tickSize": -5, "title": null}},
  "color": {"datum": "scans 1858-1874", "type": "nominal", "title": null}
 }},
{"data": {"name": "s1886"}, "mark": {"type": "line", "strokeWidth": 7, "clip": true},
 "encoding": {
  "x": {"field": "wn", "type": "quantitative", "axis": {"orient": "top", "values": [15, 20, 25, 30, 35, 40, 45, 50], "labels": false, "tickSize": -9, "title": null}},
  "color": {"datum": "scans 1886-1902", "type": "nominal", "title": null}
 }},
{"data": {"name": "s1938"}, "mark": {"type": "line", "strokeWidth": 7, "clip": true},
 "encoding": {
  "x": {"field": "wn", "type": "quantitative", "axis": {"orient": "top", "values": [17.5, 22.5, 27.5, 32.5, 37.5, 42.5, 47.5], "labels": false, "domain": false, "tickSize": -5, "title": null}},
  "color": {"datum": "scans 1938-1954", "type": "nominal", "title": null}
 }},
{"data": {"name": "s1976"}, "mark": {"type": "line", "strokeWidth": 7, "clip": true},
 "encoding": {"color": {"datum": "scans 1976-1992", "type": "nominal", "title": null}}},
{"data": {"name": "s2082"}, "mark": {"type": "line", "strokeWidth": 7, "clip": true},
 "encoding": {"color": {"datum": "scans 2082-2098", "type": "nominal", "title": null}}},
{"data": {"name": "ice"}, "mark": {"type": "line", "strokeWidth": 3, "color": "white", "clip": true}, "encoding": {}},
{"data": {"name": "ice"}, "mark": {"type": "line", "strokeWidth": 7, "color": "black", "strokeDash": [9, 4], "clip": true}, "encoding": {}},
{"data": {"name": "clear"}, "mark": {"type": "line", "strokeWidth": 3, "color": "white", "clip": true}, "encoding": {}},
{"data": {"name": "clear"}, "mark": {"type": "line", "strokeWidth": 5, "color": "black", "strokeDash": [4, 4], "clip": true}, "encoding": {}},
{"data": {"name": "samples"}, "mark": {"type": "rule", "strokeWidth": 3, "color": "black"},
 "encoding": {"x2": {"field": "wn2"}, "strokeDash": {"field": "model", "type": "nominal", "scale": {"domain": ["clear sky", "ice cloud"], "range": [[3, 5], [11, 5]]}, "legend": null}}},
{"data": {"name": "notes"}, "mark": {"type": "text", "align": "left", "baseline": "alphabetic", "font": "Liberation Sans", "fontSize": 41, "color": "black"},
 "encoding": {"text": {"field": "label", "type": "nominal"}}},
{"data": {"name": "scripts"}, "mark": {"type": "text", "align": "left", "baseline": "alphabetic", "font": "Liberation Sans", "fontSize": 26, "color": "black"},
 "encoding": {"text": {"field": "label", "type": "nominal"}}}
]
}
